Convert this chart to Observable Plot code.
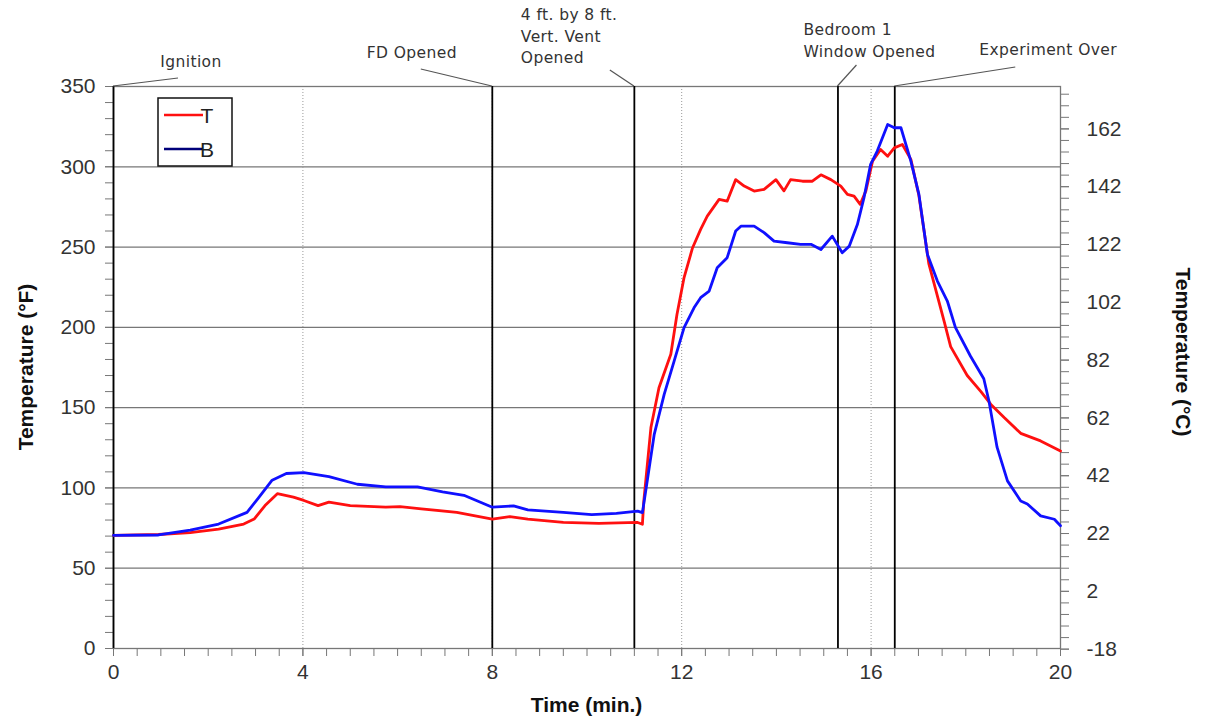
<!DOCTYPE html>
<html><head><meta charset="utf-8">
<script src="https://cdn.jsdelivr.net/npm/d3@7"></script>
<script src="https://cdn.jsdelivr.net/npm/@observablehq/plot@0.6"></script>
<style>
body{margin:0;background:#fff;}
#chart{width:1211px;height:723px;}
</style></head><body><div id="chart"></div>
<script>
// ---- data ----
const tTime = [0, 0.95, 1.62, 2.22, 2.75, 2.97, 3.2, 3.46, 3.8, 4.02, 4.32, 4.55, 5.0, 5.75, 6.05, 6.5, 7.25, 8.0, 8.37, 8.75, 9.5, 10.25, 11.07, 11.17, 11.2, 11.35, 11.52, 11.77, 11.9, 12.05, 12.23, 12.4, 12.54, 12.79, 12.96, 13.14, 13.32, 13.53, 13.74, 13.99, 14.16, 14.3, 14.55, 14.76, 14.94, 15.15, 15.36, 15.5, 15.64, 15.77, 15.89, 16.03, 16.2, 16.35, 16.49, 16.66, 16.84, 17.01, 17.22, 17.54, 17.68, 18.03, 18.32, 18.53, 18.81, 19.16, 19.58, 20];
const tTemp = [70.5, 71, 72.2, 74.3, 77.5, 80.6, 89, 96.4, 94.3, 92.2, 89, 91.2, 89, 88, 88.4, 87, 84.8, 80.6, 82.1, 80.6, 78.5, 77.9, 78.5, 77.4, 92, 137.6, 162.4, 183.2, 208, 231, 249.6, 261, 269.3, 279.7, 278.6, 292, 288, 284.9, 285.9, 292, 285, 292, 291, 291, 295, 292, 288, 282.8, 281.7, 276.6, 285, 303.5, 310.8, 306.6, 311.8, 313.9, 304.6, 282, 239.5, 204, 188, 170, 160, 152, 143.8, 134, 129.3, 123];
const bTime = [0, 0.95, 1.62, 2.22, 2.82, 3.05, 3.35, 3.65, 4.02, 4.55, 5.15, 5.75, 6.42, 6.95, 7.4, 8.0, 8.45, 8.75, 9.5, 10.1, 10.62, 11.07, 11.17, 11.24, 11.42, 11.63, 11.84, 12.05, 12.26, 12.4, 12.58, 12.75, 12.96, 13.14, 13.25, 13.53, 13.74, 13.95, 14.23, 14.51, 14.73, 14.94, 15.18, 15.39, 15.54, 15.71, 15.85, 15.99, 16.13, 16.35, 16.49, 16.63, 16.84, 17.01, 17.19, 17.4, 17.61, 17.78, 18.1, 18.38, 18.49, 18.66, 18.88, 19.16, 19.3, 19.58, 19.87, 20];
const bTemp = [70.5, 70.7, 73.7, 77.5, 84.8, 93.3, 104.8, 109, 109.5, 107, 102.3, 100.6, 100.6, 97.5, 95.4, 88, 88.8, 86.3, 84.8, 83.4, 84.2, 85.5, 84.6, 98, 133.4, 158.3, 179, 199.8, 212.2, 218.5, 222.6, 237.1, 243.4, 260, 263, 263, 259, 253.7, 252.7, 251.7, 251.7, 248.5, 256.8, 246.5, 250.6, 264, 280.7, 301.5, 309.8, 326.3, 324.3, 324.3, 303.5, 282.8, 245.4, 228.8, 216.4, 200, 182, 168, 154, 125.4, 104.4, 91.9, 90, 82.6, 80.5, 76.4];
const seriesNames = ["T", "B"];
const eventTimes = [0, 8, 11, 15.3, 16.5];
const eventLabels = [["Ignition"], ["FD Opened"], ["4 ft. by 8 ft.", "Vert. Vent", "Opened"], ["Bedroom 1", "Window Opened"], ["Experiment Over"]];
const xTicks = [0, 4, 8, 12, 16, 20];
const xMinor = d3.range(0, 20.001, 0.5);
const xDotted = [4, 8, 12, 16];
const yTicksF = [0, 50, 100, 150, 200, 250, 300, 350];
const yMinorF = d3.range(0, 350.001, 10);
const yTicksC = [-18, 2, 22, 42, 62, 82, 102, 122, 142, 162];
const yMinorC = d3.range(-18, 177, 4);
const toF = c => c * 1.8 + 32;
const toC = f => Math.round((f - 32) / 1.8);

// ---- layout / styles (not data) ----
const labelLayout = [
  {lx: 65, ly: -8, tx: 78, ty: -19, anchor: "middle"},
  {lx: -71, ly: -17, tx: -80, ty: -28, anchor: "middle"},
  {lx: -24, ly: -16, tx: -113, ty: -66, anchor: "start"},
  {lx: 19, ly: -21, tx: -34, ty: -51, anchor: "start"},
  {lx: 121, ly: -19, tx: 85, ty: -31, anchor: "start"}
];

const T = tTime.map((t, i) => ({t, F: tTemp[i]}));
const B = bTime.map((t, i) => ({t, F: bTemp[i]}));

const plot = Plot.plot({
  width: 1211, height: 723,
  marginLeft: 113, marginRight: 151, marginTop: 86, marginBottom: 75,
  style: {fontFamily: "'Liberation Sans', Arial, sans-serif", fontSize: "21px", color: "#333", background: "#fff", overflow: "visible"},
  x: {domain: [0, 20]},
  y: {domain: [0, 350]},
  marks: [
    Plot.ruleY(yTicksF.filter(v => v > 0 && v < 350), {stroke: "#777", strokeWidth: 1.3}),
    Plot.ruleX(xDotted, {stroke: "#999", strokeWidth: 1, strokeDasharray: "1,2"}),
    Plot.frame({stroke: "#777", strokeWidth: 1.3}),
    Plot.axisX({ticks: xMinor, tickSize: 8, fill: "none", label: null, stroke: "#777"}),
    Plot.axisX({ticks: xTicks, tickSize: 8, tickPadding: 8, label: null, stroke: "#777", fontSize: 21}),
    Plot.axisY({anchor: "left", ticks: yMinorF, tickSize: 8, fill: "none", label: null, stroke: "#777"}),
    Plot.axisY({anchor: "left", ticks: yTicksF, tickSize: 8, tickPadding: 10, label: null, stroke: "#777", fontSize: 21}),
    Plot.axisY({anchor: "right", ticks: yMinorC.map(toF), tickSize: 8, fill: "none", label: null, stroke: "#777"}),
    Plot.axisY({anchor: "right", ticks: yTicksC.map(toF), tickFormat: toC, tickSize: 8, tickPadding: 18, label: null, stroke: "#777", fontSize: 21}),
    Plot.ruleX(eventTimes, {stroke: "#000", strokeWidth: 1.8}),
    Plot.line(T, {x: "t", y: "F", stroke: "#ff1010", strokeWidth: 2.8, curve: "linear"}),
    Plot.line(B, {x: "t", y: "F", stroke: "#1010ff", strokeWidth: 2.8, curve: "linear"})
  ]
});

const svg = d3.select(plot);
const xs = plot.scale("x"), ys = plot.scale("y");
const topY = ys.apply(350);

// event annotations with leader lines
const ann = svg.append("g").attr("font-family", "'DejaVu Sans', Verdana, sans-serif").attr("font-size", "15.5px").attr("letter-spacing", "0.4px").attr("fill", "#333");
eventTimes.forEach((t, i) => {
  const x0 = xs.apply(t), L = labelLayout[i];
  ann.append("line").attr("x1", x0).attr("y1", topY).attr("x2", x0 + L.lx).attr("y2", topY + L.ly)
    .attr("stroke", "#555").attr("stroke-width", 1.2);
  const txt = ann.append("text").attr("text-anchor", L.anchor);
  eventLabels[i].forEach((s, j) => {
    txt.append("tspan").attr("x", x0 + L.tx).attr("y", topY + L.ty + j * 21.5).text(s);
  });
});

// axis titles
const titles = svg.append("g").attr("font-family", "'Liberation Sans', Arial, sans-serif").attr("font-weight", "bold").attr("font-size", "21px").attr("fill", "#111");
const midY = (ys.apply(0) + topY) / 2;
titles.append("text").attr("transform", `translate(33,${midY}) rotate(-90)`).attr("text-anchor", "middle").text("Temperature (°F)");
titles.append("text").attr("transform", `translate(1176,${midY - 15}) rotate(90)`).attr("text-anchor", "middle").text("Temperature (°C)");
titles.append("text").attr("x", (xs.apply(0) + xs.apply(20)) / 2).attr("y", 712).attr("text-anchor", "middle").text("Time (min.)");

// legend inside plot
const lg = svg.append("g").attr("font-family", "'Liberation Sans', Arial, sans-serif").attr("font-size", "21px").attr("fill", "#222");
lg.append("rect").attr("x", 158).attr("y", 98).attr("width", 74).attr("height", 68).attr("fill", "#fff").attr("stroke", "#111").attr("stroke-width", 1.5);
const legendColors = ["#ff1010", "#00007a"];
seriesNames.forEach((n, i) => {
  const yy = 115 + i * 34;
  lg.append("line").attr("x1", 164).attr("x2", 203).attr("y1", yy).attr("y2", yy).attr("stroke", legendColors[i]).attr("stroke-width", 2.6);
  lg.append("text").attr("x", 207).attr("y", yy + 8).text(n);
});

document.getElementById("chart").appendChild(plot);
</script>
</body></html>
